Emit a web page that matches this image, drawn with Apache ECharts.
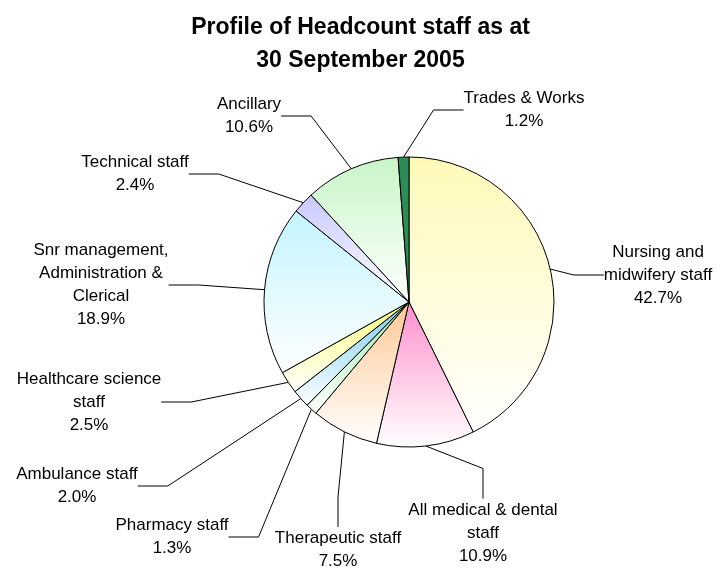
<!DOCTYPE html>
<html>
  <head>
    <meta charset="UTF-8" />
    <title></title>
    <style type="text/css">
      html,
      body {
        width: 100%;
        height: 100%;
        margin: 0;
        padding: 0;
        overflow: hidden;
        background: #fff;
      }
      #chart {
        width: 721px;
        height: 573px;
      }
    </style>
  </head>
  <body>
    <div id="chart"></div>
    <script src="https://cdn.jsdelivr.net/npm/echarts@6/dist/echarts.min.js"></script>
    <script type="text/javascript">
      // staff groups, clockwise from 12 o'clock
      const categories = [
        "Nursing and\nmidwifery staff",
        "All medical & dental\nstaff",
        "Therapeutic staff",
        "Pharmacy staff",
        "Ambulance staff",
        "Healthcare science\nstaff",
        "Snr management,\nAdministration &\nClerical",
        "Technical staff",
        "Ancillary",
        "Trades & Works",
      ];
      const percents = [42.7, 10.9, 7.5, 1.3, 2.0, 2.5, 18.9, 2.4, 10.6, 1.2];

      const sliceColors = [
        "#fff9b8",
        "#ff8fcc",
        "#ffc894",
        "#9be8a8",
        "#7ccaf0",
        "#ffff80",
        "#c4f4ff",
        "#c8c8ff",
        "#c8f5c8",
        "#2e8b57",
      ];
      // label centres (px)
      const labelPos = [
        [658, 275],
        [483, 533],
        [338, 550],
        [172, 537],
        [77, 486],
        [89, 402],
        [101, 285],
        [135, 174],
        [249, 116],
        [524, 110],
      ];

      const chart = echarts.init(document.getElementById("chart"));

      const grad = function (c, i) {
        if (i === 9) return c;
        return new echarts.graphic.LinearGradient(0, 0, 0, 1, [
          { offset: 0, color: c },
          { offset: 1, color: "#ffffff" },
        ]);
      };

      const data = categories.map(function (name, i) {
        return {
          name: name,
          value: percents[i],
          itemStyle: { color: grad(sliceColors[i], i) },
        };
      });

      chart.setOption({
        backgroundColor: "#ffffff",
        animation: false,
        title: {
          text: "Profile of Headcount staff as at\n30 September 2005",
          left: "center",
          top: 6,
          textStyle: {
            fontFamily: "Liberation Sans",
            fontWeight: "bold",
            fontSize: 23,
            lineHeight: 33,
            color: "#000",
          },
        },
        series: [
          {
            type: "pie",
            center: [409, 302],
            radius: 145,
            startAngle: 90,
            clockwise: true,
            data: data,
            itemStyle: {
              borderColor: "#000",
              borderWidth: 1,
            },
            label: {
              show: true,
              fontFamily: "Liberation Sans",
              fontSize: 17,
              lineHeight: 23,
              color: "#000",
              align: "center",
              formatter: function (p) {
                return p.name + "\n" + p.value.toFixed(1) + "%";
              },
            },
            labelLine: {
              show: true,
              lineStyle: { color: "#000", width: 1 },
            },
            labelLayout: function (params) {
              const p = labelPos[params.dataIndex];
              return {
                x: p[0],
                y: p[1],
                align: "center",
                verticalAlign: "middle",
              };
            },
            emphasis: { disabled: true },
          },
        ],
      });
    </script>
  </body>
</html>
